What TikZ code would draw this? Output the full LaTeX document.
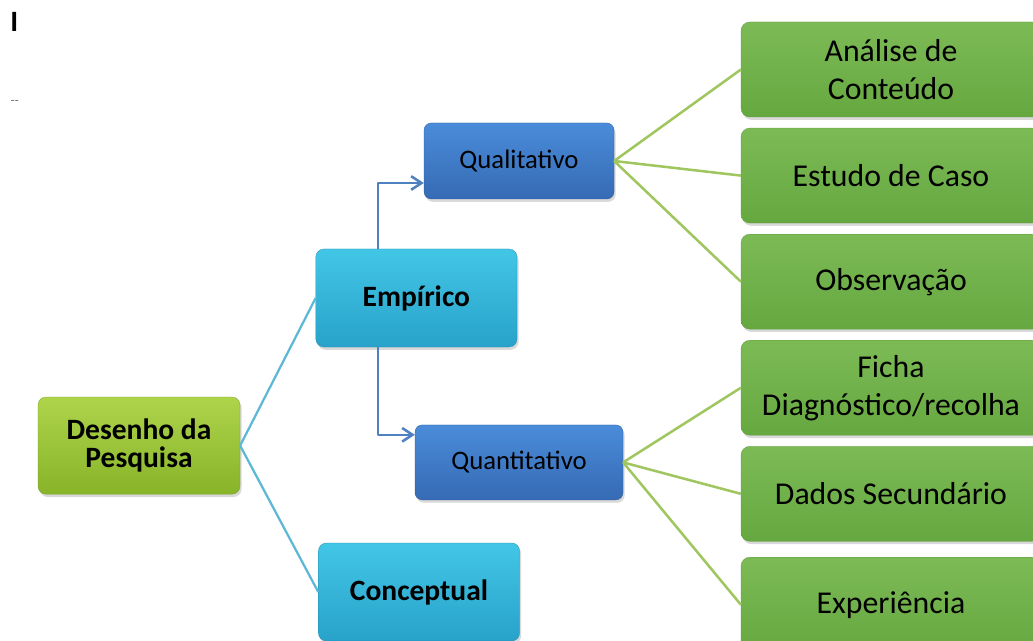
\documentclass[tikz,border=0pt]{standalone}
\usepackage{fontspec}
\setmainfont{Carlito}
\usepackage{tikz}
\usetikzlibrary{positioning,arrows.meta,shadows}
\definecolor{limetop}{RGB}{174,212,74}
\definecolor{limebot}{RGB}{136,180,42}
\definecolor{cyantop}{RGB}{66,198,230}
\definecolor{cyanbot}{RGB}{40,162,202}
\definecolor{bluetop}{RGB}{74,140,218}
\definecolor{bluebot}{RGB}{54,106,180}
\definecolor{leaftop}{RGB}{124,186,86}
\definecolor{leafbot}{RGB}{102,168,64}
\definecolor{skyline}{RGB}{92,184,212}
\definecolor{steel}{RGB}{79,129,192}
\definecolor{twiggreen}{RGB}{160,198,96}
\tikzset{
    boxshadow/.style={drop shadow={opacity=.3,shadow xshift=.4mm,shadow yshift=-.7mm}},
    root/.style={rectangle,rounded corners=2mm,draw=limebot!85!black,very thin,top color=limetop,bottom color=limebot,minimum width=50.5mm,minimum height=24.3mm,align=center,font=\fontsize{21}{19.5}\selectfont\bfseries,boxshadow},
    branch/.style={rectangle,rounded corners=2mm,draw=cyanbot!85!black,very thin,top color=cyantop,bottom color=cyanbot,minimum width=50.3mm,minimum height=24.5mm,align=center,font=\fontsize{21}{19.5}\selectfont\bfseries,boxshadow},
    method/.style={rectangle,rounded corners=1.8mm,draw=bluebot!85!black,very thin,top color=bluetop,bottom color=bluebot,minimum width=47.5mm,minimum height=19mm,align=center,font=\fontsize{19}{22}\selectfont,boxshadow},
    tool/.style={rectangle,rounded corners=2.2mm,draw=leafbot!90!black,very thin,top color=leaftop,bottom color=leafbot,minimum width=75mm,minimum height=23.75mm,align=center,font=\fontsize{22.6}{27}\selectfont,boxshadow},
    link/.style={draw=skyline,line width=1.6pt},
    elbow/.style={draw=steel,line width=1.8pt,-{Straight Barb[length=2.6mm,width=3.4mm]}},
    twig/.style={draw=twiggreen,line width=1.8pt},
}

\begin{document}
\begin{tikzpicture}[line join=round]
\useasboundingbox (0,0) rectangle (25.825,-16.025);
\clip (0,0) rectangle (25.825,-16.025);
\node[font=\fontsize{21}{21}\selectfont\bfseries] (mark) at (0.36,-0.56) {I};
\node[font=\fontsize{9}{9}\selectfont,text=gray!80!black] (dash) at (0.37,-2.57) {-{}-};
\node[root]   (des)  at (3.475,-11.14) {Desenho da\\Pesquisa};
\node[branch] (emp)  at (10.41,-7.45)  {Empírico};
\node[branch] (con)  at (10.475,-14.8) {Conceptual};
\node[method] (qual) at (12.975,-4.025) {Qualitativo};
\node[method,minimum width=52mm,minimum height=18.75mm] (quan) at (12.975,-11.56) {Quantitativo};
\node[tool] (ana) at (22.275,-1.7375) {Análise de\\Conteúdo};
\node[tool,below=2.7mm of ana] (est) {Estudo de Caso};
\node[tool,below=2.7mm of est] (obs) {Observação};
\node[tool,below=2.7mm of obs] (fic) {Ficha\\Diagnóstico/recolha};
\node[tool,below=2.7mm of fic] (dad) {Dados Secundário};
\node[tool,below=3.9mm of dad] (exp) {Experiência};
\draw[link] (des.east) -- (emp.west);
\draw[link] (des.east) -- (con.west);
\draw[elbow] ([xshift=-9.6mm]emp.north) |- ([yshift=-5.5mm]qual.west);
\draw[elbow] ([xshift=-9.6mm]emp.south) |- ([yshift=6.9mm]quan.west);
\foreach \t in {ana,est,obs}
    \draw[twig] (qual.east) -- (\t.west);
\foreach \t in {fic,dad,exp}
    \draw[twig] (quan.east) -- (\t.west);
\end{tikzpicture}
\end{document}
